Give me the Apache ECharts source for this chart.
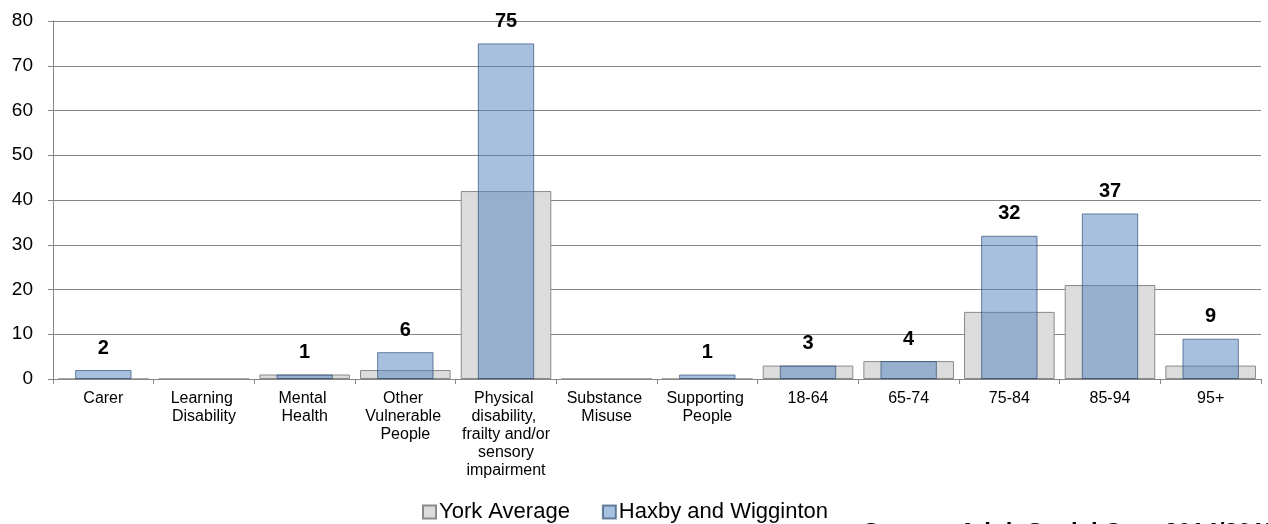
<!DOCTYPE html>
<html>
<head>
<meta charset="utf-8">
<script src="https://cdn.jsdelivr.net/npm/echarts@6/dist/echarts.min.js"></script>
<style>
html,body{margin:0;padding:0;background:#fff;overflow:hidden;}
#chart{width:1268px;height:524px;}
</style>
</head>
<body>
<div id="chart"></div>
<script>
var categories = ['Carer', 'Learning Disability', 'Mental Health', 'Other Vulnerable People',
  'Physical disability, frailty and/or sensory impairment', 'Substance Misuse', 'Supporting People',
  '18-64', '65-74', '75-84', '85-94', '95+'];
var yorkAverage = [0, 0, 1, 2, 42, 0, 0, 3, 4, 15, 21, 3];
var haxbyWigginton = [2, null, 1, 6, 75, null, 1, 3, 4, 32, 37, 9];
var yTicks = [0, 10, 20, 30, 40, 50, 60, 70, 80];
var sourceText = 'Source: Adult Social Care 2014/2015';

var FONT = 'Liberation Sans, Arial, sans-serif';
var chart = echarts.init(document.getElementById('chart'));
chart.setOption({
  animation: false,
  textStyle: { fontFamily: FONT },
  grid: { left: 53, right: 7, top: 21, bottom: 145, containLabel: false },
  legend: {
    data: ['York Average', 'Haxby and Wigginton'],
    top: 496,
    left: 417,
    itemWidth: 13,
    itemHeight: 13,
    itemGap: 32,
    icon: 'rect',
    textStyle: { fontSize: 22, color: '#000', padding: [0, 0, 0, -2] }
  },
  xAxis: [
    {
      type: 'category',
      data: categories,
      axisLine: { lineStyle: { color: '#868686', width: 1 } },
      axisTick: { show: true, length: 5, lineStyle: { color: '#868686' } },
      axisLabel: {
        interval: 0, color: '#000', fontSize: 16, lineHeight: 18,
        width: 92, overflow: 'break', margin: 11
      }
    },
    {
      type: 'category',
      data: categories,
      show: false
    }
  ],
  yAxis: {
    type: 'value',
    min: yTicks[0], max: yTicks[yTicks.length - 1], interval: 10,
    axisLine: { show: true, lineStyle: { color: '#868686' } },
    axisTick: { show: true, length: 5, lineStyle: { color: '#868686' } },
    splitLine: { lineStyle: { color: '#868686', width: 1 } },
    axisLabel: { color: '#000', fontSize: 19, margin: 20 }
  },
  series: [
    {
      name: 'York Average',
      type: 'bar',
      xAxisIndex: 0,
      data: yorkAverage,
      barWidth: '90%',
      itemStyle: { color: '#dcdcdc', borderColor: '#8a8a8a', borderWidth: 1 },
      z: 2
    },
    {
      name: 'Haxby and Wigginton',
      type: 'bar',
      xAxisIndex: 1,
      data: haxbyWigginton,
      barWidth: '56%',
      itemStyle: { color: 'rgba(79,129,189,0.5)', borderColor: 'rgba(40,70,110,0.65)', borderWidth: 1 },
      label: {
        show: true, position: 'top', distance: 12,
        fontSize: 20, fontWeight: 'bold', color: '#000'
      },
      z: 3
    }
  ],
  graphic: [
    {
      type: 'text', left: 863, top: 521,
      style: { text: sourceText, fontSize: 24, fontWeight: 'bold', fill: '#000', fontFamily: FONT }
    }
  ]
});
</script>
</body>
</html>
